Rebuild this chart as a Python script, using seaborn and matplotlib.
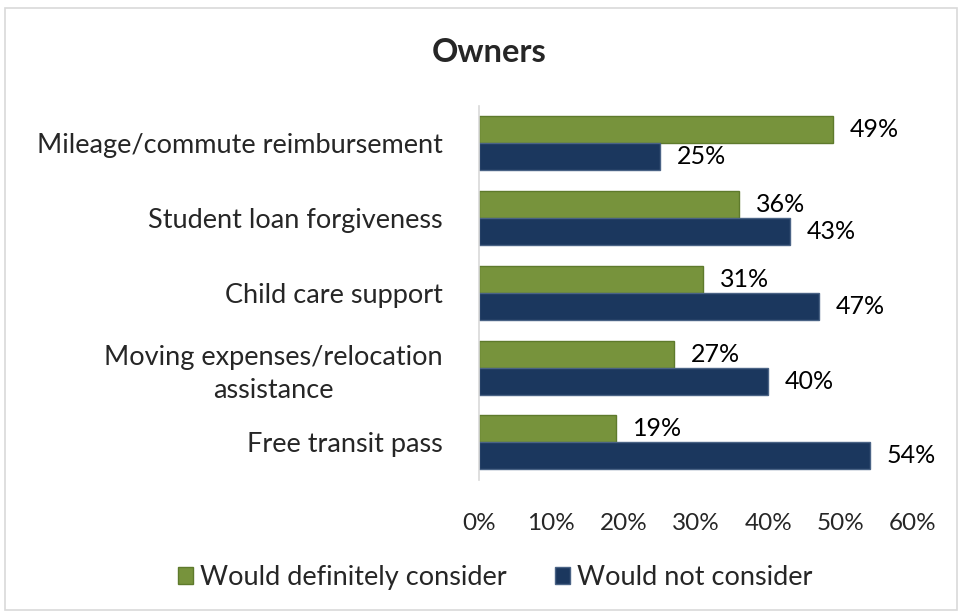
import matplotlib
matplotlib.use("Agg")
import matplotlib.pyplot as plt
import matplotlib.patches as mpatches
import seaborn as sns
import pandas as pd

# Survey results (percent of owners)
benefits = [
    "Mileage/commute reimbursement",
    "Student loan forgiveness",
    "Child care support",
    "Moving expenses/relocation\nassistance",
    "Free transit pass",
]
definitely_consider = [49, 36, 31, 27, 19]
not_consider = [25, 43, 47, 40, 54]
series_names = ["Would definitely consider", "Would not consider"]
x_ticks = [0, 10, 20, 30, 40, 50, 60]

green = "#77933C"
navy = "#1B375E"

df = pd.DataFrame({
    "benefit": benefits * 2,
    "series": [series_names[0]] * len(benefits) + [series_names[1]] * len(benefits),
    "value": definitely_consider + not_consider,
})

sns.set_theme(style="white")
plt.rcParams["font.family"] = ["Lato", "DejaVu Sans"]

fig = plt.figure(figsize=(9.6, 6.12), dpi=100)
ax = fig.add_axes([0.499, 0.216, 0.452, 0.611])

sns.barplot(
    data=df, y="benefit", x="value", hue="series", order=benefits,
    hue_order=series_names, palette=[green, navy], orient="h",
    width=0.72, gap=0, dodge=True, legend=False, ax=ax,
    saturation=1, linewidth=1,
)

edge_cols = ["#5E7A2C", "#4A6385"]
for cont, ec in zip(ax.containers, edge_cols):
    for bar in cont:
        bar.set_edgecolor(ec)
        bar.set_linewidth(1)
    ax.bar_label(cont, labels=[f"{v:.0f}%" for v in cont.datavalues],
                 padding=12, fontsize=18, color="black")

ax.set_xlim(0, 60)
ax.set_ylim(4.5, -0.5)
ax.set_xticks(x_ticks)
ax.set_xticklabels([f"{t}%" for t in x_ticks], fontsize=17.5)
ax.tick_params(axis="x", length=0, pad=24)
ax.tick_params(axis="y", length=0, pad=26, labelsize=19.5)
for lbl in ax.get_yticklabels():
    lbl.set_multialignment("center")
    lbl.set_linespacing(1.4)
ax.set_xlabel("")
ax.set_ylabel("")
for side in ["top", "right", "bottom"]:
    ax.spines[side].set_visible(False)
ax.spines["left"].set_color("#D9D9D9")
ax.spines["left"].set_linewidth(1.2)

fig.text(0.51, 0.915, "Owners", ha="center", va="center",
         fontsize=23.5, fontweight="bold")

handles = [mpatches.Patch(facecolor=green, edgecolor=edge_cols[0], label=series_names[0]),
           mpatches.Patch(facecolor=navy, edgecolor=edge_cols[1], label=series_names[1])]
fig.legend(handles=handles, loc="center", bbox_to_anchor=(0.516, 0.056),
           ncol=2, frameon=False, fontsize=19.5, handlelength=0.55,
           handleheight=0.55, handletextpad=0.25, columnspacing=1.8)

fig.patches.append(mpatches.Rectangle((0.005, 0.003), 0.992, 0.984,
                                      transform=fig.transFigure, fill=False,
                                      edgecolor="#D9D9D9", linewidth=1.2))

fig.savefig("out.png", dpi=100, facecolor="white")
